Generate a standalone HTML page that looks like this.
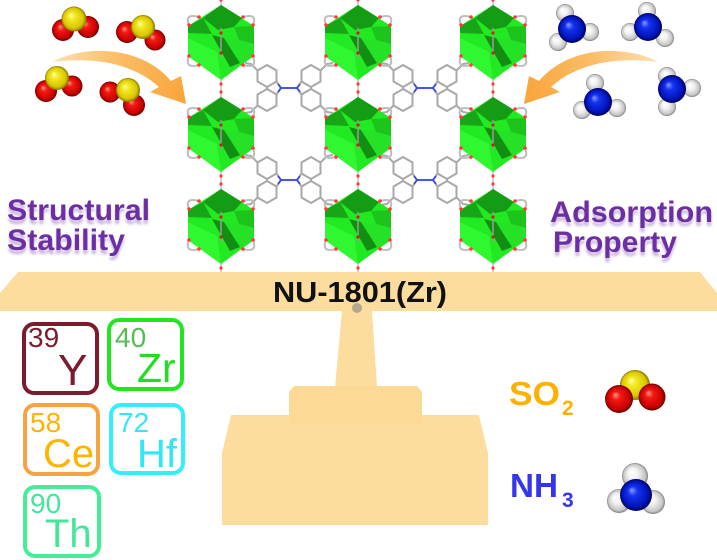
<!DOCTYPE html>
<html><head><meta charset="utf-8"><style>html,body{margin:0;padding:0;background:#fff;}svg{display:block}</style></head>
<body>
<svg width="717" height="560" viewBox="0 0 717 560" xmlns="http://www.w3.org/2000/svg" xmlns:xlink="http://www.w3.org/1999/xlink">
<defs>
  <radialGradient id="gR" cx="0.5" cy="0.5" r="0.5" fx="0.36" fy="0.34">
    <stop offset="0" stop-color="#ff9a8a"/><stop offset="0.3" stop-color="#f21a12"/><stop offset="0.8" stop-color="#cc0000"/><stop offset="1" stop-color="#6a0000"/>
  </radialGradient>
  <radialGradient id="gY" cx="0.5" cy="0.5" r="0.5" fx="0.36" fy="0.34">
    <stop offset="0" stop-color="#ffffb0"/><stop offset="0.3" stop-color="#f4e824"/><stop offset="0.8" stop-color="#d8c600"/><stop offset="1" stop-color="#857500"/>
  </radialGradient>
  <radialGradient id="gB" cx="0.5" cy="0.5" r="0.5" fx="0.36" fy="0.34">
    <stop offset="0" stop-color="#8a9cff"/><stop offset="0.3" stop-color="#1432f0"/><stop offset="0.8" stop-color="#0014b8"/><stop offset="1" stop-color="#00005a"/>
  </radialGradient>
  <radialGradient id="gW" cx="0.5" cy="0.5" r="0.5" fx="0.36" fy="0.34">
    <stop offset="0" stop-color="#ffffff"/><stop offset="0.4" stop-color="#f2f2f2"/><stop offset="0.85" stop-color="#c4c4c4"/><stop offset="1" stop-color="#7c7c7c"/>
  </radialGradient>
  <linearGradient id="gA" x1="52" y1="60" x2="186" y2="100" gradientUnits="userSpaceOnUse">
    <stop offset="0" stop-color="#fde0b0"/><stop offset="0.45" stop-color="#fbbd66"/><stop offset="1" stop-color="#f9a43a"/>
  </linearGradient>
  <filter id="bl" x="-10%" y="-50%" width="120%" height="200%"><feGaussianBlur stdDeviation="1.3"/></filter>

  <g id="cl">
    <path d="M-22,-25 Q-37,-29 -32,-17" fill="none" stroke="#bdbdbd" stroke-width="2"/>
    <path d="M22,-25 Q37,-29 32,-17" fill="none" stroke="#bdbdbd" stroke-width="2"/>
    <path d="M-22,23 Q-37,27 -32,14" fill="none" stroke="#bdbdbd" stroke-width="2"/>
    <path d="M22,23 Q37,27 32,14" fill="none" stroke="#bdbdbd" stroke-width="2"/>
    <line x1="0" y1="-46" x2="0" y2="-36" stroke="#c0c0c0" stroke-width="1.5"/>
    <line x1="0" y1="36" x2="0" y2="46" stroke="#c0c0c0" stroke-width="1.5"/>
    <polygon points="0,-37 -33,-16 -33,14 0,38 33,14 33,-16" fill="#22ea22"/>
    <polygon points="-33,14 0,38 -4,10 -33,-4" fill="#30f830"/>
    <polygon points="0,-37 -18,-24 -3,-12 13,-15 21,-24" fill="#149c14"/>
    <polygon points="-33,-16 -18,-24 -9,-8 -33,-9" fill="#17a617"/>
    <polygon points="-9,-7 3,-4 19,21 9,25" fill="#128f12"/>
    <polygon points="13,-15 33,-16 33,2 18,-2" fill="#1cc41c"/>
    <polygon points="3,-4 18,-2 33,2 33,14 19,21" fill="#26e226"/>
    <line x1="0" y1="-14" x2="0" y2="16" stroke="#9a9a9a" stroke-width="1.5"/>
    <circle cx="0" cy="-9" r="1.6" fill="#b03018"/>
    <circle cx="0" cy="11" r="1.6" fill="#b03018"/>
    <g fill="#ff3a3a">
      <circle cx="-22" cy="-25" r="1.8"/><circle cx="-32" cy="-17" r="1.8"/>
      <circle cx="22" cy="-25" r="1.8"/><circle cx="32" cy="-17" r="1.8"/>
      <circle cx="-22" cy="23" r="1.8"/><circle cx="-32" cy="14" r="1.8"/>
      <circle cx="22" cy="23" r="1.8"/><circle cx="32" cy="14" r="1.8"/>
      <circle cx="0" cy="-42" r="1.6"/><circle cx="0" cy="42" r="1.6"/>
    </g>
  </g>

  <g id="half" fill="none" stroke="#a8a8a8" stroke-width="2">
    <polygon points="-22,-23 -12.5,-17.5 -12.5,-6.5 -22,-1 -31.5,-6.5 -31.5,-17.5"/>
    <polygon points="-22,1 -12.5,6.5 -12.5,17.5 -22,23 -31.5,17.5 -31.5,6.5"/>
    <polyline points="-12.5,-6.5 -8,0 -12.5,6.5"/>
    <line x1="-22" y1="-1" x2="-22" y2="1"/>
    <polyline points="-31.5,-17.5 -38,-24 -44,-25"/>
    <polyline points="-31.5,17.5 -38,24 -44,25"/>
    <line x1="-8" y1="0" x2="0" y2="0" stroke="#3344ee" stroke-width="1.8"/>
    <line x1="-8" y1="0" x2="-11" y2="-4" stroke="#3344ee" stroke-width="1.6"/>
    <line x1="-8" y1="0" x2="-11" y2="4" stroke="#3344ee" stroke-width="1.6"/>
  </g>
  <g id="lk">
    <use xlink:href="#half"/>
    <use xlink:href="#half" transform="scale(-1,1)"/>
  </g>
</defs>

<!-- linkers -->
<use xlink:href="#lk" transform="translate(289,88)"/>
<use xlink:href="#lk" transform="translate(425,88)"/>
<use xlink:href="#lk" transform="translate(289,180)"/>
<use xlink:href="#lk" transform="translate(425,180)"/>

<!-- clusters -->
<use xlink:href="#cl" transform="translate(221,42)"/>
<use xlink:href="#cl" transform="translate(358,42)"/>
<use xlink:href="#cl" transform="translate(493,42)"/>
<use xlink:href="#cl" transform="translate(221,134)"/>
<use xlink:href="#cl" transform="translate(358,134)"/>
<use xlink:href="#cl" transform="translate(493,134)"/>
<use xlink:href="#cl" transform="translate(221,226)"/>
<use xlink:href="#cl" transform="translate(358,226)"/>
<use xlink:href="#cl" transform="translate(493,226)"/>

<!-- arrows -->
<g id="arr">
<path d="M52,62 C85,44 142,46 171,81 L181,76 L186,104 L150,92 L159,87 C131,62 92,57 52,62 Z" fill="url(#gA)"/>
</g>
<use xlink:href="#arr" transform="translate(710,0) scale(-1,1)"/>

<!-- SO2 molecules top-left -->
<g>
  <circle cx="63" cy="30" r="11" fill="url(#gR)"/><circle cx="88" cy="27" r="11" fill="url(#gR)"/><circle cx="74" cy="19" r="12.5" fill="url(#gY)"/>
  <circle cx="127" cy="32" r="11" fill="url(#gR)"/><circle cx="155" cy="40" r="10.5" fill="url(#gR)"/><circle cx="143" cy="27" r="12" fill="url(#gY)"/>
  <circle cx="46" cy="91" r="11" fill="url(#gR)"/><circle cx="72" cy="86" r="10.5" fill="url(#gR)"/><circle cx="57" cy="78" r="12" fill="url(#gY)"/>
  <circle cx="110" cy="92" r="10.5" fill="url(#gR)"/><circle cx="134" cy="105" r="11" fill="url(#gR)"/><circle cx="128" cy="90" r="12" fill="url(#gY)"/>
</g>

<!-- NH3 molecules top-right -->
<g>
  <circle cx="565" cy="13" r="9" fill="url(#gW)"/><circle cx="558" cy="42" r="9" fill="url(#gW)"/><circle cx="590" cy="32" r="9" fill="url(#gW)"/><circle cx="572" cy="29" r="14" fill="url(#gB)"/>
  <circle cx="647" cy="11" r="9" fill="url(#gW)"/><circle cx="630" cy="32" r="9" fill="url(#gW)"/><circle cx="665" cy="38" r="9" fill="url(#gW)"/><circle cx="648" cy="27" r="14" fill="url(#gB)"/>
  <circle cx="595" cy="83" r="9" fill="url(#gW)"/><circle cx="582" cy="110" r="9" fill="url(#gW)"/><circle cx="617" cy="108" r="9" fill="url(#gW)"/><circle cx="598" cy="102" r="14" fill="url(#gB)"/>
  <circle cx="667" cy="76" r="9" fill="url(#gW)"/><circle cx="692" cy="88" r="9" fill="url(#gW)"/><circle cx="667" cy="107" r="9" fill="url(#gW)"/><circle cx="672" cy="89" r="14" fill="url(#gB)"/>
</g>

<!-- purple labels -->
<g font-family="'Liberation Sans', Arial, sans-serif" font-weight="bold" font-size="30" fill="#6b2fa3">
  <g opacity="0.35" filter="url(#bl)" transform="translate(0,4)">
    <text x="7" y="220" textLength="143" lengthAdjust="spacingAndGlyphs">Structural</text>
    <text x="7" y="250" textLength="118" lengthAdjust="spacingAndGlyphs">Stability</text>
    <text x="550" y="222" textLength="163" lengthAdjust="spacingAndGlyphs">Adsorption</text>
    <text x="553" y="252" textLength="124" lengthAdjust="spacingAndGlyphs">Property</text>
  </g>
  <text x="7" y="220" textLength="143" lengthAdjust="spacingAndGlyphs">Structural</text>
  <text x="7" y="250" textLength="118" lengthAdjust="spacingAndGlyphs">Stability</text>
  <text x="550" y="222" textLength="163" lengthAdjust="spacingAndGlyphs">Adsorption</text>
  <text x="553" y="252" textLength="124" lengthAdjust="spacingAndGlyphs">Property</text>
</g>

<!-- balance -->
<g fill="#fddd9e">
  <polygon points="18,272 700,272 717,293 717,311 0,311 0,293"/>
  <polygon points="342,311 372,311 377,387 335,387"/>
  <polygon points="231,415 479,415 488,453 488,525 222,525 222,453"/>
  <path d="M294,386 L417,386 L422,392 L422,424 L289,424 L289,392 Z" fill="#fcd995"/>
</g>
<circle cx="357" cy="308" r="5" fill="#a79e8a" opacity="0.85"/>
<text x="360" y="302" text-anchor="middle" font-family="'Liberation Sans', Arial, sans-serif" font-weight="bold" font-size="29" fill="#111" textLength="174" lengthAdjust="spacingAndGlyphs">NU-1801(Zr)</text>

<!-- element boxes -->
<g font-family="'Liberation Sans', Arial, sans-serif" fill="none" stroke-width="4">
  <rect x="24" y="324" width="73" height="69" rx="10" stroke="#7d1b2e"/>
  <rect x="109" y="320" width="73" height="69" rx="10" stroke="#22e622"/>
  <rect x="25" y="405" width="73" height="69" rx="10" stroke="#f8a343"/>
  <rect x="111" y="405" width="72" height="68" rx="10" stroke="#33eeff"/>
  <rect x="25" y="487" width="74" height="69" rx="10" stroke="#44ee99"/>
</g>
<g font-family="'Liberation Sans', Arial, sans-serif">
  <text x="28" y="347" font-size="28" fill="#7d1b2e">39</text>
  <text x="58" y="385" font-size="44" fill="#7d1b2e">Y</text>
  <text x="115" y="347" font-size="28" fill="#55bb55">40</text>
  <text x="137" y="382" font-size="41" fill="#22dd22">Zr</text>
  <text x="30" y="432" font-size="28" fill="#ffb400">58</text>
  <text x="43" y="467" font-size="40" fill="#ffb400">Ce</text>
  <text x="118" y="432" font-size="28" fill="#33e6f6">72</text>
  <text x="137" y="467" font-size="40" fill="#33e6f6">Hf</text>
  <text x="30" y="513" font-size="28" fill="#44e699">90</text>
  <text x="45" y="547" font-size="40" fill="#44e699">Th</text>
</g>

<!-- right legend -->
<g font-family="'Liberation Sans', Arial, sans-serif" font-weight="bold">
  <text x="509" y="405" font-size="33" fill="#ffb000" textLength="51" lengthAdjust="spacingAndGlyphs">SO</text>
  <text x="562" y="415" font-size="21" fill="#ffb000">2</text>
  <text x="510" y="497" font-size="33" fill="#3535ee" textLength="48" lengthAdjust="spacingAndGlyphs">NH</text>
  <text x="562" y="507" font-size="21" fill="#3535ee">3</text>
</g>
<circle cx="635" cy="385" r="15" fill="url(#gY)"/>
<circle cx="619" cy="399" r="14" fill="url(#gR)"/>
<circle cx="652" cy="397" r="13.5" fill="url(#gR)"/>
<circle cx="635" cy="476" r="13" fill="url(#gW)"/>
<circle cx="619" cy="501" r="12" fill="url(#gW)"/>
<circle cx="653" cy="502" r="12" fill="url(#gW)"/>
<circle cx="636" cy="495" r="16" fill="url(#gB)"/>
</svg>
</body></html>
